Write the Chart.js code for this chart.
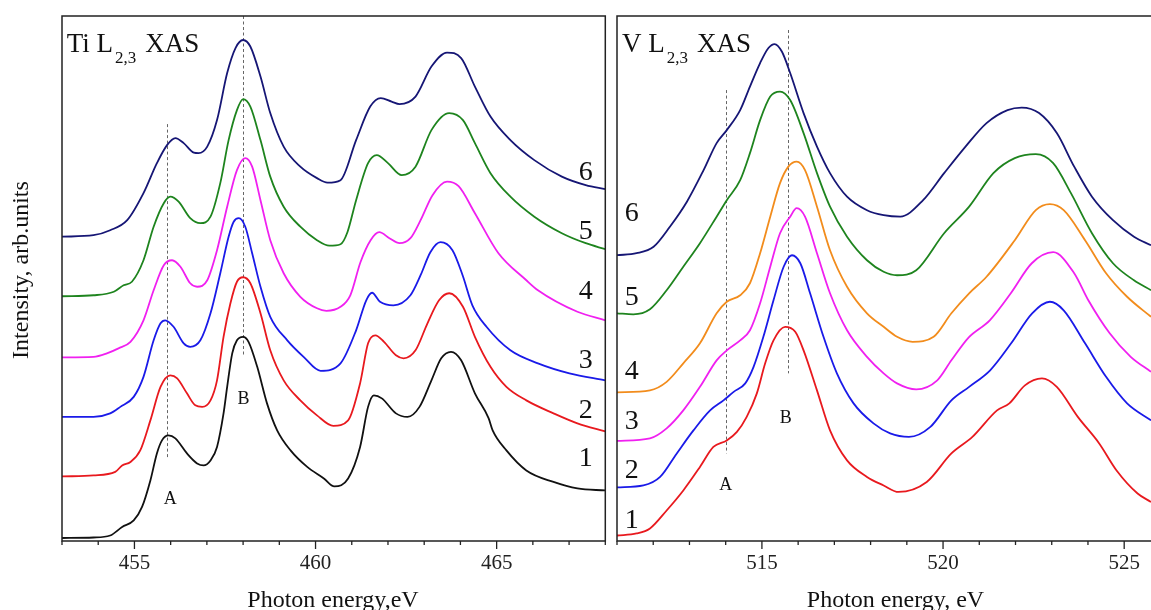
<!DOCTYPE html>
<html><head><meta charset="utf-8">
<script src="https://cdn.jsdelivr.net/npm/chart.js@4/dist/chart.umd.min.js"></script>
<style>
html,body{margin:0;padding:0;background:#fff;}
#wrap{position:relative;width:1151px;height:610px;overflow:hidden;background:#fff;}
#c1{position:absolute;left:0;top:0;}
#c2{position:absolute;left:610px;top:0;}
</style></head><body>
<div id="wrap"><canvas id="c1" width="610" height="610"></canvas><canvas id="c2" width="541" height="610"></canvas></div>
<script>
// ---------- Ti L2,3 XAS : [photon energy (eV), intensity (arb. units, stacked)] ----------
const ti1 = [[453.00,0.06],[453.87,0.07],[454.33,0.11],[454.66,0.28],[454.98,0.41],[455.21,0.68],[455.44,1.21],[455.62,1.75],[455.76,2.01],[455.94,2.11],[456.13,2.05],[456.45,1.75],[456.73,1.55],[456.91,1.51],[457.10,1.61],[457.28,1.88],[457.46,2.55],[457.56,3.08],[457.70,3.75],[457.83,4.01],[458.00,4.08],[458.15,3.98],[458.39,3.48],[458.66,2.75],[458.94,2.21],[459.31,1.81],[459.77,1.48],[460.23,1.25],[460.52,1.09],[460.90,1.25],[461.23,1.88],[461.45,2.68],[461.61,2.91],[461.83,2.85],[462.22,2.55],[462.54,2.48],[462.87,2.68],[463.20,3.21],[463.47,3.65],[463.74,3.78],[464.02,3.61],[464.40,2.95],[464.78,2.45],[464.89,2.21],[465.27,1.81],[465.82,1.41],[466.57,1.18],[467.23,1.05],[468.00,1.01]];
const ti2 = [[453.00,1.29],[453.87,1.31],[454.47,1.38],[454.66,1.51],[454.89,1.58],[455.16,1.81],[455.44,2.41],[455.72,3.08],[455.99,3.31],[456.18,3.25],[456.45,2.95],[456.68,2.71],[456.87,2.68],[457.10,2.81],[457.28,3.21],[457.46,4.08],[457.65,4.75],[457.83,5.18],[458.00,5.27],[458.20,5.15],[458.48,4.55],[458.75,3.81],[459.12,3.21],[459.58,2.81],[460.04,2.51],[460.49,2.30],[460.90,2.41],[461.23,3.15],[461.45,3.95],[461.65,4.11],[461.89,3.98],[462.22,3.71],[462.43,3.65],[462.76,3.81],[463.09,4.35],[463.41,4.81],[463.69,4.95],[464.07,4.68],[464.40,4.08],[464.83,3.48],[465.27,3.08],[465.82,2.81],[466.57,2.55],[467.23,2.35],[468.00,2.19]];
const ti3 = [[453.00,2.48],[453.87,2.48],[454.33,2.55],[454.61,2.68],[454.98,2.88],[455.25,3.28],[455.53,4.01],[455.72,4.35],[455.85,4.41],[456.08,4.28],[456.36,3.95],[456.54,3.88],[456.82,4.01],[457.10,4.55],[457.37,5.35],[457.60,6.08],[457.74,6.38],[457.88,6.45],[458.06,6.28],[458.25,5.75],[458.48,5.08],[458.75,4.48],[459.22,4.01],[459.67,3.68],[460.14,3.40],[460.69,3.55],[461.12,4.21],[461.40,4.81],[461.56,4.96],[461.78,4.78],[462.15,4.71],[462.62,4.91],[462.90,5.31],[463.17,5.77],[463.45,5.97],[463.78,5.81],[464.06,5.31],[464.33,4.71],[464.72,4.28],[465.38,3.81],[466.14,3.55],[467.01,3.35],[468.00,3.21]];
const ti4 = [[453.00,3.67],[453.87,3.68],[454.24,3.75],[454.56,3.85],[454.89,3.98],[455.25,4.41],[455.53,5.01],[455.81,5.51],[456.04,5.61],[456.27,5.48],[456.54,5.15],[456.73,5.08],[457.01,5.21],[457.28,5.81],[457.56,6.68],[457.83,7.41],[458.06,7.65],[458.25,7.48],[458.48,6.81],[458.75,6.01],[459.12,5.35],[459.58,4.88],[460.04,4.65],[460.30,4.60],[460.69,4.68],[460.96,4.91],[461.24,5.57],[461.52,6.01],[461.76,6.17],[462.04,6.05],[462.32,5.95],[462.62,6.05],[462.90,6.41],[463.23,6.91],[463.63,7.18],[463.95,7.09],[464.40,6.55],[465.05,5.75],[465.82,5.21],[466.14,5.01],[467.23,4.58],[468.00,4.41]];
const ti5 = [[453.00,4.89],[453.87,4.91],[454.43,4.98],[454.70,5.11],[454.93,5.18],[455.25,5.61],[455.53,6.28],[455.81,6.75],[455.99,6.88],[456.22,6.78],[456.54,6.45],[456.82,6.35],[457.10,6.48],[457.37,7.15],[457.60,8.01],[457.83,8.61],[458.00,8.83],[458.20,8.68],[458.48,8.01],[458.75,7.28],[459.12,6.68],[459.58,6.28],[460.04,6.01],[460.38,5.90],[460.69,5.93],[460.88,6.17],[461.12,6.81],[461.45,7.55],[461.69,7.71],[462.00,7.55],[462.38,7.31],[462.76,7.48],[463.20,8.21],[463.69,8.55],[464.07,8.41],[464.40,7.95],[464.83,7.35],[465.38,6.88],[466.04,6.48],[466.80,6.15],[467.46,5.95],[468.00,5.83]];
const ti6 = [[453.00,6.08],[453.87,6.11],[454.33,6.21],[454.80,6.41],[455.25,6.95],[455.62,7.55],[455.90,7.91],[456.13,8.05],[456.36,7.95],[456.64,7.76],[456.77,7.75],[457.01,7.88],[457.28,8.41],[457.56,9.35],[457.79,9.85],[458.00,10.01],[458.20,9.88],[458.48,9.28],[458.75,8.55],[459.12,7.88],[459.58,7.48],[460.04,7.25],[460.33,7.16],[460.69,7.21],[461.12,8.01],[461.51,8.68],[461.80,8.85],[462.10,8.78],[462.32,8.73],[462.76,8.88],[463.20,9.48],[463.63,9.76],[464.02,9.65],[464.40,9.08],[464.83,8.48],[465.38,8.01],[466.04,7.61],[466.80,7.28],[467.46,7.11],[468.00,7.03]];

// ---------- V L2,3 XAS ----------
const v1 = [[511.00,0.11],[511.54,0.15],[511.91,0.25],[512.37,0.61],[512.83,1.01],[513.29,1.48],[513.66,1.88],[514.03,2.01],[514.31,2.18],[514.58,2.48],[514.86,2.95],[515.09,3.55],[515.32,4.01],[515.64,4.28],[515.92,4.18],[516.15,3.81],[516.52,3.01],[516.88,2.21],[517.35,1.61],[517.90,1.28],[518.36,1.11],[518.77,0.98],[519.55,1.18],[520.23,1.75],[520.81,2.08],[521.49,2.61],[521.83,2.75],[522.26,3.11],[522.73,3.25],[523.14,3.08],[523.72,2.48],[524.31,1.95],[524.79,1.41],[525.37,0.95],[525.74,0.78]];
const v2 = [[511.00,1.07],[511.73,1.11],[512.19,1.28],[512.65,1.75],[513.11,2.21],[513.57,2.61],[513.94,2.81],[514.22,2.98],[514.54,3.15],[514.77,3.48],[515.04,4.08],[515.32,4.81],[515.60,5.48],[515.83,5.71],[516.06,5.55],[516.33,4.95],[516.70,4.08],[517.07,3.35],[517.53,2.75],[518.08,2.35],[518.54,2.15],[519.06,2.08],[519.65,2.28],[520.23,2.81],[520.72,3.08],[521.30,3.41],[521.88,3.95],[522.46,4.55],[522.95,4.78],[523.33,4.61],[523.92,3.95],[524.50,3.28],[525.08,2.75],[525.74,2.41]];
const v3 = [[511.00,2.00],[511.91,2.05],[512.37,2.25],[512.83,2.61],[513.29,3.08],[513.75,3.61],[514.03,3.81],[514.40,4.01],[514.67,4.21],[514.95,4.75],[515.23,5.48],[515.50,6.15],[515.78,6.48],[515.96,6.65],[516.19,6.48],[516.52,5.75],[516.88,4.95],[517.35,4.21],[517.90,3.68],[518.36,3.35],[518.73,3.15],[519.26,3.03],[519.84,3.21],[520.23,3.61],[520.71,4.07],[521.29,4.41],[521.87,4.95],[522.45,5.55],[523.04,5.77],[523.62,5.35],[524.01,4.81],[524.60,4.15],[525.18,3.68],[525.74,3.38]];
const v4 = [[511.00,2.97],[511.91,3.01],[512.37,3.18],[512.83,3.55],[513.29,3.95],[513.75,4.55],[514.03,4.78],[514.40,4.91],[514.67,5.15],[514.95,5.75],[515.23,6.48],[515.50,7.15],[515.73,7.48],[515.96,7.58],[516.19,7.41],[516.52,6.68],[516.88,5.81],[517.35,5.08],[517.90,4.55],[518.36,4.28],[518.73,4.08],[519.16,3.98],[519.74,4.08],[520.23,4.55],[520.72,4.95],[521.20,5.28],[521.98,6.01],[522.56,6.61],[522.95,6.73],[523.33,6.61],[523.92,6.01],[524.50,5.35],[525.08,4.88],[525.74,4.48]];
const v5 = [[511.00,4.55],[511.45,4.53],[511.91,4.63],[512.37,5.01],[512.83,5.48],[513.29,5.95],[513.75,6.48],[514.03,6.81],[514.40,7.21],[514.67,7.75],[514.95,8.41],[515.23,8.88],[515.50,8.98],[515.78,8.81],[516.15,8.15],[516.52,7.35],[516.88,6.68],[517.35,6.08],[517.90,5.61],[518.36,5.38],[518.73,5.31],[519.26,5.41],[520.03,6.15],[520.72,6.68],[521.39,7.35],[521.98,7.65],[522.56,7.73],[523.04,7.55],[523.53,6.95],[524.11,6.15],[524.69,5.55],[525.27,5.21],[525.74,5.01]];
const v6 = [[511.00,5.71],[511.54,5.75],[512.01,5.88],[512.46,6.28],[512.93,6.78],[513.39,7.41],[513.75,7.95],[514.03,8.21],[514.40,8.61],[514.67,9.08],[514.95,9.55],[515.18,9.85],[515.35,9.93],[515.55,9.78],[515.78,9.35],[516.15,8.55],[516.52,7.88],[516.88,7.35],[517.35,6.88],[517.90,6.61],[518.36,6.51],[518.82,6.48],[519.45,6.81],[520.03,7.35],[520.62,7.88],[521.20,8.35],[521.78,8.61],[522.17,8.66],[522.65,8.55],[523.14,8.15],[523.62,7.48],[524.11,6.88],[524.69,6.41],[525.27,6.08],[525.74,5.91]];

// tick labels
const tiTicks = [455, 460, 465];
const vTicks = [515, 520, 525];
// curve numbers
const curveNames = ['1','2','3','4','5','6'];
// marker (dashed) lines: energy, lower and upper intensity
const tiMarkE = [455.90, 458.00], tiMarkLo = [1.67, 3.68], tiMarkHi = [8.33, 10.49];
const vMarkE  = [514.01, 515.73], vMarkLo = [1.75, 3.35], vMarkHi = [9.01, 10.21];
const markNames = ['A','B'];

const SERIF = '"Liberation Serif", "Times New Roman", serif';

const deco = {
  id: 'deco',
  beforeDatasetsDraw(chart, args, o) {
    const {ctx, chartArea: a, scales: {x, y}} = chart;
    ctx.save();
    ctx.beginPath(); ctx.rect(a.left, a.top, a.right - a.left, a.bottom - a.top); ctx.clip();
    ctx.strokeStyle = '#666'; ctx.lineWidth = 1; ctx.setLineDash([3, 2.5]);
    o.markE.forEach((e, i) => {
      const px = Math.round(x.getPixelForValue(e)) + 0.5;
      ctx.beginPath();
      ctx.moveTo(px, y.getPixelForValue(o.markHi[i]));
      ctx.lineTo(px, y.getPixelForValue(o.markLo[i]));
      ctx.stroke();
    });
    ctx.restore();
  },
  afterDatasetsDraw(chart, args, o) {
    const {ctx, chartArea: a, scales: {x, y}} = chart;
    ctx.save();
    // frame
    ctx.strokeStyle = '#222'; ctx.lineWidth = 1.5; ctx.setLineDash([]);
    ctx.beginPath();
    if (o.rightEdge) {
      ctx.rect(a.left, a.top, a.right - a.left, a.bottom - a.top);
    } else {
      ctx.moveTo(a.right + 2, a.top); ctx.lineTo(a.left, a.top); ctx.lineTo(a.left, a.bottom); ctx.lineTo(a.right + 2, a.bottom);
    }
    ctx.stroke();
    // ticks (major every 5, minor every 1)
    ctx.lineWidth = 1.3;
    for (let v = Math.ceil(x.min); v <= Math.floor(x.max); v++) {
      const px = x.getPixelForValue(v);
      const len = v % 5 === 0 ? 8 : 4;
      ctx.beginPath(); ctx.moveTo(px, a.bottom); ctx.lineTo(px, a.bottom + len); ctx.stroke();
    }
    ctx.fillStyle = '#111';
    // panel title with subscript
    const t = o.title;
    ctx.textAlign = 'left'; ctx.textBaseline = 'alphabetic';
    ctx.font = '27px ' + SERIF;
    ctx.fillText(t.parts[0], t.x, t.y);
    let cx = t.x + ctx.measureText(t.parts[0]).width + 2;
    ctx.font = '17px ' + SERIF;
    ctx.fillText(t.parts[1], cx, t.y + 11);
    cx += ctx.measureText(t.parts[1]).width + 9;
    ctx.font = '27px ' + SERIF;
    ctx.fillText(t.parts[2], cx, t.y);
    // curve numbers
    ctx.textAlign = 'center'; ctx.textBaseline = 'middle';
    ctx.font = '28px ' + SERIF;
    o.numE.forEach((e, i) => ctx.fillText(curveNames[i], x.getPixelForValue(e), y.getPixelForValue(o.numI[i])));
    // A / B
    ctx.font = '18px ' + SERIF;
    o.abE.forEach((e, i) => ctx.fillText(markNames[i], x.getPixelForValue(e), y.getPixelForValue(o.abI[i])));
    // x title
    ctx.font = '24px ' + SERIF; ctx.textBaseline = 'alphabetic';
    ctx.fillText(o.xTitle.text, o.xTitle.x, o.xTitle.y);
    // y title
    if (o.yTitle) {
      ctx.translate(o.yTitle.x, o.yTitle.y); ctx.rotate(-Math.PI / 2);
      ctx.textBaseline = 'middle';
      ctx.fillText(o.yTitle.text, 0, 0);
    }
    ctx.restore();
  }
};

function ds(data, color) {
  return {
    data: data.map(p => ({x: p[0], y: p[1]})),
    borderColor: color, borderWidth: 1.8, pointRadius: 0, fill: false,
    cubicInterpolationMode: 'monotone'
  };
}

function makeChart(id, datasets, xmin, xmax, ticks, yW, pad, decoOpts) {
  return new Chart(document.getElementById(id), {
    type: 'line',
    data: {datasets},
    options: {
      responsive: false, animation: false, devicePixelRatio: 1,
      layout: {padding: pad},
      plugins: {legend: {display: false}, tooltip: {enabled: false}, deco: decoOpts},
      scales: {
        x: {
          type: 'linear', min: xmin, max: xmax,
          grid: {display: false, drawTicks: false}, border: {display: false},
          ticks: {font: {family: SERIF, size: 21}, color: '#222', padding: 10, maxRotation: 0},
          afterBuildTicks: s => { s.ticks = ticks.map(v => ({value: v})); },
          afterFit: s => { s.height = 69; }
        },
        y: {
          min: 0, max: 10.49,
          grid: {display: false, drawTicks: false}, border: {display: false},
          ticks: {display: false},
          afterFit: s => { s.width = yW; }
        }
      }
    },
    plugins: [deco]
  });
}

makeChart('c1', [
  ds(ti1, '#111111'), ds(ti2, '#e8191e'), ds(ti3, '#1a1ae8'),
  ds(ti4, '#f020f0'), ds(ti5, '#1e841e'), ds(ti6, '#161675')
], 453, 468, tiTicks, 62, {left: 0, right: 4.7, top: 16, bottom: 0}, {
  rightEdge: true,
  markE: tiMarkE, markLo: tiMarkLo, markHi: tiMarkHi,
  title: {parts: ['Ti L', '2,3', 'XAS'], x: 66.7, y: 52},
  numE: [467.46, 467.46, 467.46, 467.46, 467.46, 467.46],
  numI: [1.65, 2.61, 3.61, 4.99, 6.19, 7.37],
  abE: [455.99, 458.01], abI: [0.83, 2.83],
  xTitle: {text: 'Photon energy,eV', x: 333, y: 607},
  yTitle: {text: 'Intensity, arb.units', x: 22, y: 270}
});

makeChart('c2', [
  ds(v1, '#e8191e'), ds(v2, '#1a1ae8'), ds(v3, '#f020f0'),
  ds(v4, '#f28c1c'), ds(v5, '#1e841e'), ds(v6, '#161675')
], 511, 525.74, vTicks, 7, {left: 0, right: 0, top: 16, bottom: 0}, {
  rightEdge: false,
  markE: vMarkE, markLo: vMarkLo, markHi: vMarkHi,
  title: {parts: ['V L', '2,3', 'XAS'], x: 12, y: 52},
  numE: [511.41, 511.41, 511.41, 511.41, 511.41, 511.41],
  numI: [0.41, 1.41, 2.39, 3.39, 4.87, 6.55],
  abE: [514.00, 515.66], abI: [1.11, 2.45],
  xTitle: {text: 'Photon energy, eV', x: 285.5, y: 607},
  yTitle: null
});
</script>
</body></html>
